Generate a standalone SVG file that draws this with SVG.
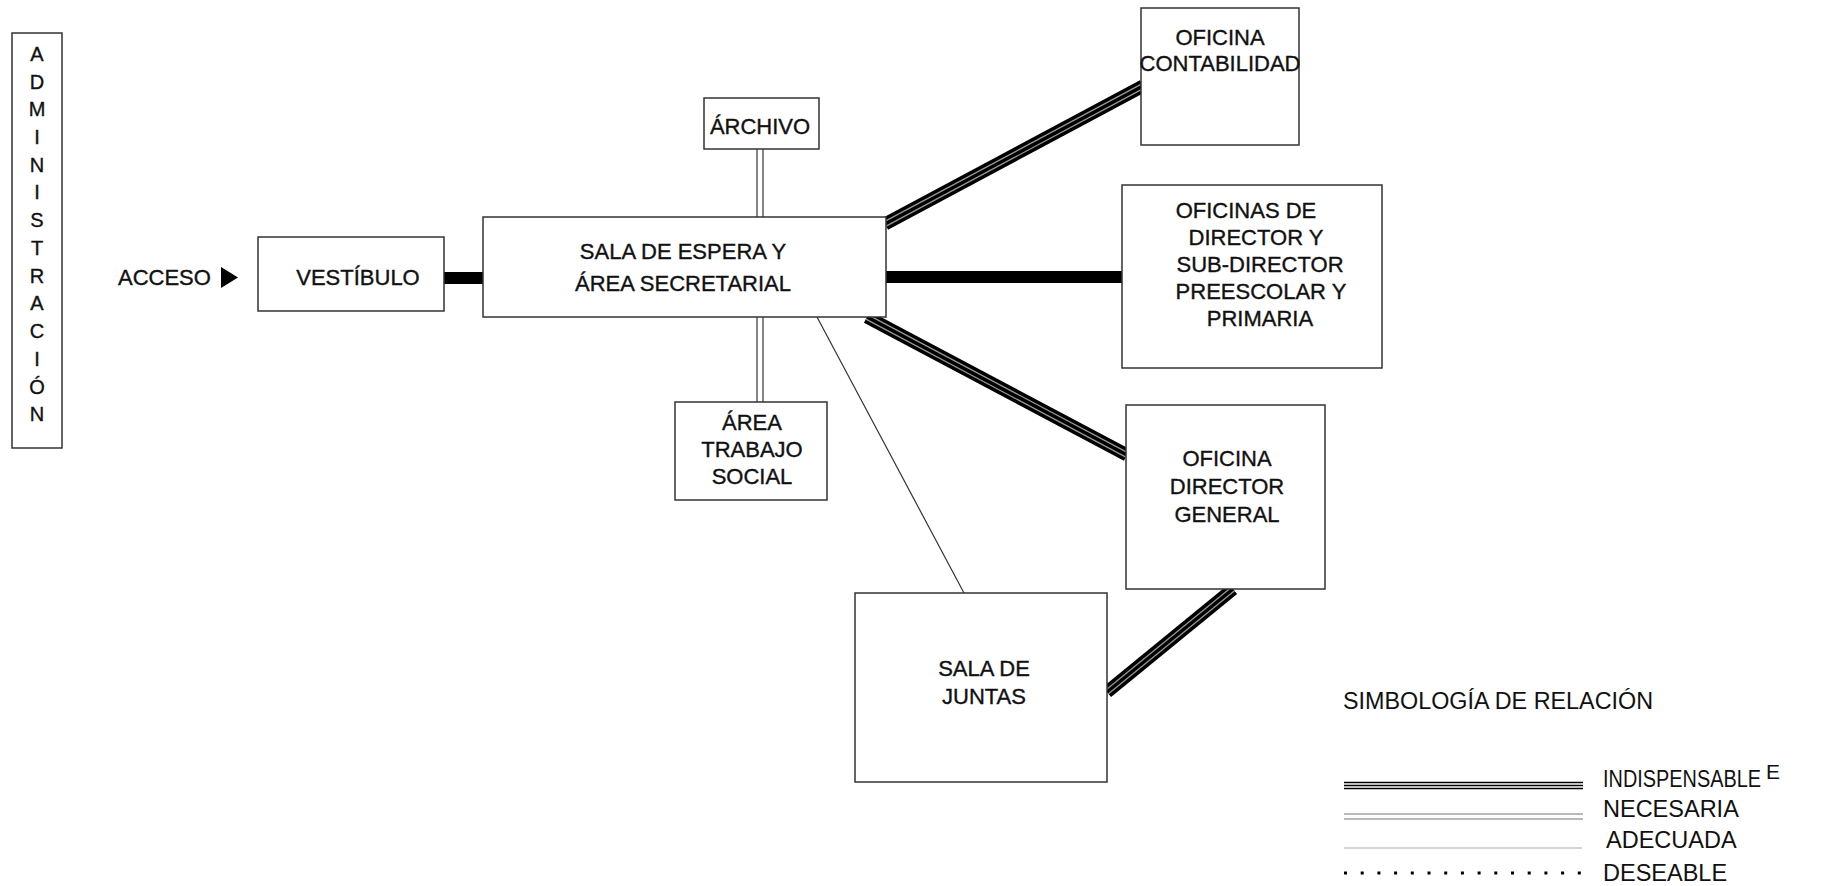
<svg xmlns="http://www.w3.org/2000/svg" width="1824" height="886" viewBox="0 0 1824 886">
<style>
.box{fill:#fff;stroke:#333;stroke-width:1.5}
.t{font-family:"Liberation Sans",Arial,sans-serif;font-size:22px;fill:#111;stroke:#111;stroke-width:0.35;text-anchor:middle}
.lg{font-family:"Liberation Sans",Arial,sans-serif;font-size:23.5px;fill:#111}
.ind1{stroke:#000;stroke-width:13;fill:none}
.ind2{stroke:#999;stroke-width:6;fill:none}
.ind3{stroke:#000;stroke-width:3.5;fill:none}
.bar{stroke:#000;stroke-width:12;fill:none}
.nec{stroke:#444;stroke-width:1.3;fill:none}
.ade{stroke:#333;stroke-width:1.2;fill:none}
</style>
<rect width="1824" height="886" fill="#fff"/>
<g id="connectors">
  <line class="bar" x1="443" y1="278" x2="485" y2="278"/>
  <line class="bar" x1="885" y1="277" x2="1123" y2="277" stroke-width="13"/>
  <line class="nec" x1="757" y1="149" x2="757" y2="217"/>
  <line class="nec" x1="763" y1="149" x2="763" y2="217"/>
  <line class="nec" x1="757" y1="317" x2="757" y2="402"/>
  <line class="nec" x1="763" y1="317" x2="763" y2="402"/>
  <line class="ade" x1="817" y1="317" x2="964" y2="593"/>
  <g id="c-contab">
    <line class="ind1" x1="885" y1="224" x2="1143" y2="86"/>
    <line class="ind2" x1="885" y1="224" x2="1143" y2="86"/>
    <line class="ind3" x1="885" y1="224" x2="1143" y2="86"/>
  </g>
  <g id="c-odg">
    <line class="ind1" x1="867" y1="317" x2="1127" y2="455"/>
    <line class="ind2" x1="867" y1="317" x2="1127" y2="455"/>
    <line class="ind3" x1="867" y1="317" x2="1127" y2="455"/>
  </g>
  <g id="c-juntas">
    <line class="ind1" x1="1233" y1="589" x2="1107" y2="692"/>
    <line class="ind2" x1="1233" y1="589" x2="1107" y2="692"/>
    <line class="ind3" x1="1233" y1="589" x2="1107" y2="692"/>
  </g>
</g>
<g id="admin">
  <rect class="box" x="12" y="33" width="50" height="415"/>
  <g class="t" style="font-size:20px">
    <text x="37" y="61">A</text>
    <text x="37" y="89">D</text>
    <text x="37" y="116">M</text>
    <text x="37" y="144">I</text>
    <text x="37" y="172">N</text>
    <text x="37" y="199">I</text>
    <text x="37" y="227">S</text>
    <text x="37" y="255">T</text>
    <text x="37" y="283">R</text>
    <text x="37" y="310">A</text>
    <text x="37" y="338">C</text>
    <text x="37" y="366">I</text>
    <text x="37" y="394">Ó</text>
    <text x="37" y="421">N</text>
  </g>
</g>
<g id="acceso">
  <text class="t" x="118" y="285" style="text-anchor:start">ACCESO</text>
  <polygon points="221,267 238,277.5 221,288" fill="#000"/>
</g>
<g id="vestibulo">
  <rect class="box" x="258" y="237" width="186" height="74"/>
  <text class="t" x="358" y="285">VESTÍBULO</text>
</g>
<g id="sala-espera">
  <rect class="box" x="483" y="217" width="403" height="100"/>
  <text class="t" x="683" y="259">SALA DE ESPERA Y</text>
  <text class="t" x="683" y="291">ÁREA SECRETARIAL</text>
</g>
<g id="archivo">
  <rect class="box" x="704" y="98" width="115" height="51"/>
  <text class="t" x="760" y="134">ÁRCHIVO</text>
</g>
<g id="trabajo-social">
  <rect class="box" x="675" y="402" width="152" height="98"/>
  <text class="t" x="752" y="430">ÁREA</text>
  <text class="t" x="752" y="457">TRABAJO</text>
  <text class="t" x="752" y="484">SOCIAL</text>
</g>
<g id="contabilidad">
  <rect class="box" x="1141" y="8" width="158" height="137"/>
  <text class="t" x="1220" y="45">OFICINA</text>
  <text class="t" x="1220" y="71">CONTABILIDAD</text>
</g>
<g id="oficinas-director">
  <rect class="box" x="1122" y="185" width="260" height="183"/>
  <text class="t" x="1246" y="218">OFICINAS DE</text>
  <text class="t" x="1256" y="245">DIRECTOR Y</text>
  <text class="t" x="1260" y="272">SUB-DIRECTOR</text>
  <text class="t" x="1261" y="299">PREESCOLAR Y</text>
  <text class="t" x="1260" y="326">PRIMARIA</text>
</g>
<g id="director-general">
  <rect class="box" x="1126" y="405" width="199" height="184"/>
  <text class="t" x="1227" y="466">OFICINA</text>
  <text class="t" x="1227" y="494">DIRECTOR</text>
  <text class="t" x="1227" y="522">GENERAL</text>
</g>
<g id="sala-juntas">
  <rect class="box" x="855" y="593" width="252" height="189"/>
  <text class="t" x="984" y="676">SALA DE</text>
  <text class="t" x="984" y="704">JUNTAS</text>
</g>
<g id="legend">
  <text class="lg" x="1343" y="709" textLength="310" lengthAdjust="spacingAndGlyphs">SIMBOLOGÍA DE RELACIÓN</text>
  <line x1="1344" y1="782.5" x2="1583" y2="782.5" stroke="#000" stroke-width="1.6"/>
  <line x1="1344" y1="785.5" x2="1583" y2="785.5" stroke="#000" stroke-width="1.6"/>
  <line x1="1344" y1="788.5" x2="1583" y2="788.5" stroke="#000" stroke-width="1.6"/>
  <line x1="1344" y1="814" x2="1583" y2="814" stroke="#777" stroke-width="1.1"/>
  <line x1="1344" y1="819" x2="1583" y2="819" stroke="#777" stroke-width="1.1"/>
  <line x1="1344" y1="848" x2="1582" y2="848" stroke="#aaa" stroke-width="1.1"/>
  <line x1="1344" y1="873" x2="1590" y2="873" stroke="#000" stroke-width="3" stroke-dasharray="3 13.7"/>
  <text class="lg" x="1603" y="787" textLength="158" lengthAdjust="spacingAndGlyphs">INDISPENSABLE</text>
  <text class="lg" x="1766" y="779" style="font-size:21px">E</text>
  <text class="lg" x="1603" y="817">NECESARIA</text>
  <text class="lg" x="1606" y="848">ADECUADA</text>
  <text class="lg" x="1603" y="881">DESEABLE</text>
</g>
</svg>
